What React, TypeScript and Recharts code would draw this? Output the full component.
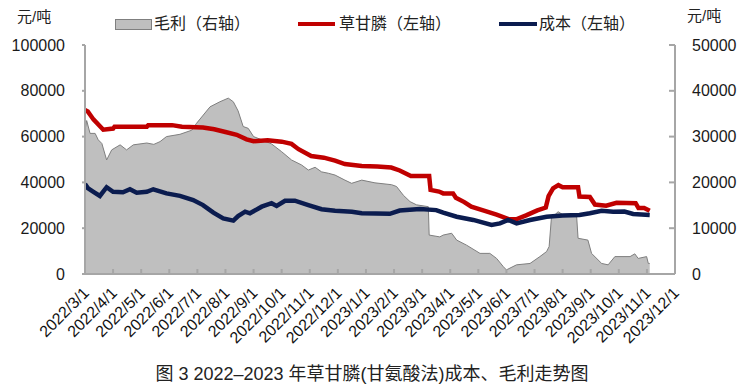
import React from "react";
import { ComposedChart, Area, Line, XAxis, YAxis } from "recharts";

// months since 2022/3/1
const xLabels = [
  "2022/3/1", "2022/4/1", "2022/5/1", "2022/6/1", "2022/7/1", "2022/8/1",
  "2022/9/1", "2022/10/1", "2022/11/1", "2022/12/1", "2023/1/1", "2023/2/1",
  "2023/3/1", "2023/4/1", "2023/5/1", "2023/6/1", "2023/7/1", "2023/8/1",
  "2023/9/1", "2023/10/1", "2023/11/1", "2023/12/1",
];

// 草甘膦 price (left axis)
const priceMonths = [
  0, 0.1, 0.3, 0.65, 1.0, 1.05, 2.2, 2.25, 3.1, 3.45, 4.2, 4.6, 5.0, 5.4, 5.75,
  6.0, 6.5, 7.0, 7.35, 7.6, 8.05, 8.5, 8.9, 9.25, 9.85, 10.4, 10.9, 11.2, 11.6,
  12.25, 12.3, 12.6, 12.75, 13.1, 13.2, 13.5, 13.75, 14.2, 14.65, 15.1, 15.35,
  15.7, 16.1, 16.4, 16.5, 16.66, 16.85, 17.0, 17.55, 17.6, 17.97, 18.15, 18.55,
  18.92, 19.6, 19.7, 19.9, 20.1,
];
const priceValues = [
  71600, 71000, 67500, 63000, 63500, 64300, 64300, 65000, 65000, 64300, 64000,
  63200, 62000, 60800, 58800, 58000, 58400, 57800, 56800, 54500, 51500, 50800,
  49500, 48000, 47200, 46900, 46500, 45200, 42800, 42800, 36700, 36000, 35200,
  35200, 33300, 31400, 29400, 27700, 25900, 23900, 23900, 25600, 27800, 29000,
  34000, 37400, 38800, 37900, 37900, 33800, 33600, 30300, 29800, 31100, 30900,
  28800, 28800, 27600,
];

// 成本 (left axis)
const costMonths = [
  0, 0.1, 0.3, 0.53, 0.77, 1.0, 1.35, 1.6, 1.84, 2.2, 2.43, 2.9, 3.38, 3.85, 4.2,
  4.57, 4.92, 5.28, 5.45, 5.7, 5.87, 6.29, 6.64, 6.82, 7.12, 7.47, 7.95, 8.42,
  8.9, 9.5, 9.85, 10.85, 11.2, 11.92, 12.5, 12.75, 13.23, 13.82, 14.47, 14.77,
  15.06, 15.36, 15.84, 16.43, 17.0, 17.6, 17.97, 18.39, 18.8, 19.2, 19.51, 20.1,
];
const costValues = [
  39300, 37500, 35900, 34100, 37900, 35900, 35700, 37000, 35500, 35900, 37000,
  35200, 34100, 32300, 30100, 26800, 24300, 23300, 25300, 27200, 26500, 29400,
  30900, 29700, 32000, 32000, 30100, 28300, 27600, 27200, 26500, 26300, 27700,
  28400, 27900, 26800, 25000, 23600, 21400, 22100, 23600, 22100, 23600, 25000,
  25500, 25800, 26500, 27600, 27200, 27300, 26200, 25800,
];

// 毛利 (right axis)
const marginMonths = [
  0, 0.06, 0.18, 0.36, 0.47, 0.6, 0.77, 0.95, 1.25, 1.48, 1.72, 2.2, 2.45, 2.67,
  2.9, 3.38, 3.8, 3.97, 4.21, 4.45, 4.8, 5.1, 5.28, 5.45, 5.63, 5.81, 6.0, 6.29,
  6.64, 7.0, 7.35, 7.71, 7.95, 8.19, 8.42, 8.66, 8.9, 9.25, 9.49, 9.85, 10.32,
  10.91, 11.09, 11.33, 11.57, 11.8, 12.22, 12.25, 12.63, 12.75, 13.05, 13.23,
  13.58, 14.06, 14.41, 14.65, 14.89, 15.0, 15.36, 15.84, 16.19, 16.43, 16.52,
  16.6, 16.84, 17.02, 17.5, 17.55, 17.9, 18.03, 18.39, 18.62, 18.86, 19.4,
  19.57, 19.69, 19.99, 20.05, 20.1,
];
const marginValues = [
  31400, 33500, 30700, 30700, 29300, 28500, 24900, 27100, 28200, 27100, 28200,
  28600, 28300, 28900, 30000, 30500, 31400, 32900, 34700, 36500, 37600, 38400,
  37600, 35600, 32200, 31800, 30000, 29300, 28400, 26700, 24900, 23800, 22700,
  23300, 22300, 22000, 21600, 20500, 19800, 20500, 19900, 19500, 19100, 17200,
  15800, 15100, 14700, 8500, 8100, 8500, 8900, 7400, 6300, 4500, 4500, 3400,
  1600, 900, 2000, 2300, 3800, 4900, 6000, 12200, 13600, 12900, 12500, 7800,
  7400, 4500, 2300, 2000, 3800, 3800, 4400, 3400, 3800, 2300, 2300,
];

const leftTicks = [0, 20000, 40000, 60000, 80000, 100000];
const rightTicks = [0, 10000, 20000, 30000, 40000, 50000];

const toRows = (ms: number[], vs: number[]) => ms.map((m, i) => ({ m, v: vs[i] }));
const priceData = toRows(priceMonths, priceValues);
const costData = toRows(costMonths, costValues);
const marginData = toRows(marginMonths, marginValues);

const FONT = '"Liberation Sans", Arial, "Noto Sans CJK SC", sans-serif';
const AXIS = "#a6a6a6";

const XTick = ({ x, y, payload }: any) => (
  <text
    x={x}
    y={y}
    transform={`rotate(-45 ${x} ${y})`}
    textAnchor="end"
    dy={7}
    fontSize={16}
    fontFamily={FONT}
    fill="#111"
  >
    {xLabels[Math.round(payload.value)]}
  </text>
);

const legendText: React.CSSProperties = {
  position: "absolute",
  top: 14,
  fontSize: 16,
  lineHeight: "20px",
  color: "#222",
  whiteSpace: "nowrap",
};

export default function App() {
  return (
    <div
      style={{
        position: "absolute",
        left: 0,
        top: 0,
        width: 744,
        height: 384,
        background: "#fff",
        fontFamily: FONT,
      }}
    >
      <ComposedChart width={744} height={384} margin={{ top: 45, right: 0, bottom: 0, left: 0 }}>
        <XAxis
          type="number"
          dataKey="m"
          domain={[0, 21]}
          ticks={xLabels.map((_, i) => i)}
          allowDataOverflow
          height={110}
          stroke={AXIS}
          strokeWidth={2}
          tickSize={-5}
          tickMargin={20}
          tick={<XTick />}
        />
        <YAxis
          yAxisId="left"
          orientation="left"
          width={85}
          domain={[0, 100000]}
          ticks={leftTicks}
          stroke={AXIS}
          strokeWidth={2}
          tickSize={3}
          tickMargin={17}
          tick={{ fontSize: 16, fill: "#1a1a1a", fontFamily: FONT }}
        />
        <YAxis
          yAxisId="right"
          orientation="right"
          width={69}
          domain={[0, 50000]}
          ticks={rightTicks}
          stroke={AXIS}
          strokeWidth={2}
          tickSize={-6}
          tickMargin={23}
          tick={{ fontSize: 16, fill: "#1a1a1a", fontFamily: FONT, textAnchor: "start" }}
        />
        <Area
          yAxisId="right"
          data={marginData}
          dataKey="v"
          type="linear"
          fill="#bfbfbf"
          fillOpacity={1}
          stroke="#7f7f7f"
          strokeWidth={1}
          isAnimationActive={false}
          dot={false}
          activeDot={false}
        />
        <Line
          yAxisId="left"
          data={priceData}
          dataKey="v"
          type="linear"
          stroke="#c00000"
          strokeWidth={4.5}
          dot={false}
          activeDot={false}
          isAnimationActive={false}
        />
        <Line
          yAxisId="left"
          data={costData}
          dataKey="v"
          type="linear"
          stroke="#0b1c4f"
          strokeWidth={4.5}
          dot={false}
          activeDot={false}
          isAnimationActive={false}
        />
      </ComposedChart>

      {/* legend */}
      <div style={{ position: "absolute", left: 115, top: 19, width: 35, height: 9, background: "#bfbfbf", border: "1px solid #7f7f7f" }} />
      <div style={{ ...legendText, left: 154 }}>毛利（右轴）</div>
      <div style={{ position: "absolute", left: 298, top: 22, width: 37, height: 4, background: "#c00000" }} />
      <div style={{ ...legendText, left: 339 }}>草甘膦（左轴）</div>
      <div style={{ position: "absolute", left: 499, top: 22, width: 38, height: 4, background: "#0b1c4f" }} />
      <div style={{ ...legendText, left: 539 }}>成本（左轴）</div>

      {/* units */}
      <div style={{ position: "absolute", left: 17, top: 5, fontSize: 15, color: "#222" }}>元/吨</div>
      <div style={{ position: "absolute", left: 687, top: 4, fontSize: 15, color: "#222" }}>元/吨</div>

      {/* caption */}
      <div
        style={{
          position: "absolute",
          left: 0,
          width: 744,
          top: 359,
          textAlign: "center",
          fontSize: 18,
          color: "#222",
        }}
      >
        图 3 2022–2023 年草甘膦(甘氨酸法)成本、毛利走势图
      </div>
    </div>
  );
}
